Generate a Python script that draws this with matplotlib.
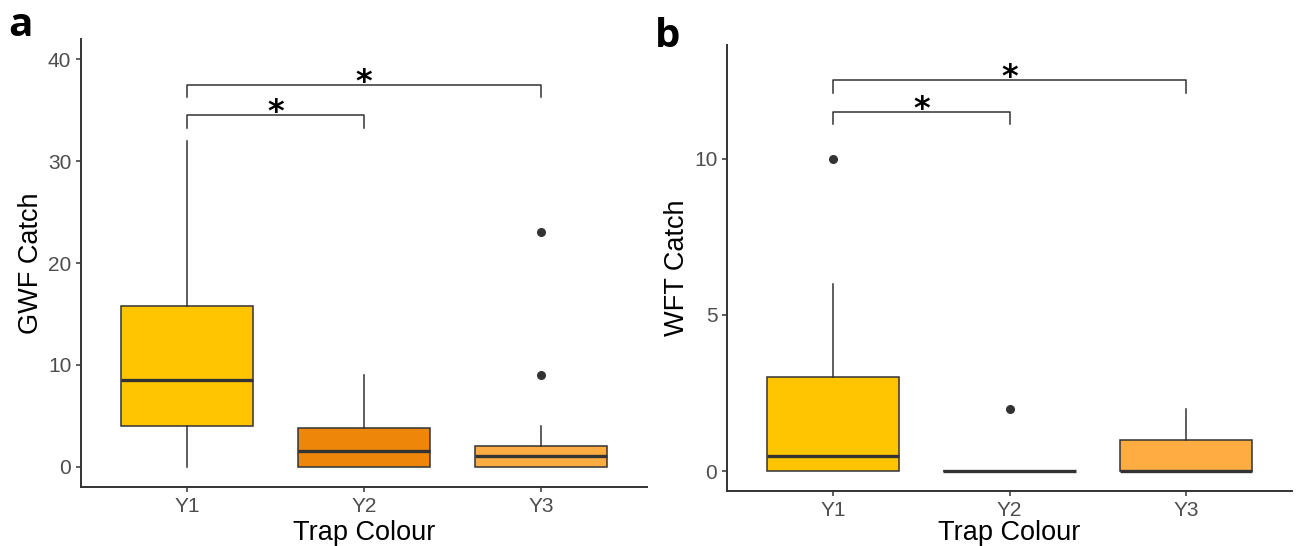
import matplotlib
matplotlib.use("Agg")
import matplotlib.pyplot as plt

plt.rcParams['font.family'] = ['Liberation Sans', 'DejaVu Sans']

# Trap colours and their fills
traps = ['Y1', 'Y2', 'Y3']
fills = ['#FFC500', '#EE860A', '#FFAD42']

# panel a: GWF catch (box stats)
gwf_low = [0, 0, 0]
gwf_q1 = [4, 0, 0]
gwf_med = [8.5, 1.5, 1]
gwf_q3 = [15.75, 3.75, 2]
gwf_high = [32, 9, 4]
gwf_out = [[], [], [9, 23]]

# panel b: WFT catch
wft_low = [0, 0, 0]
wft_q1 = [0, 0, 0]
wft_med = [0.5, 0, 0]
wft_q3 = [3, 0, 1]
wft_high = [6, 0, 2]
wft_out = [[10], [2], []]

# significance brackets: (from, to, height, label)
gwf_sig = [(1, 2, 34.5, '*'), (1, 3, 37.5, '*')]
wft_sig = [(1, 2, 11.5, '*'), (1, 3, 12.5, '*')]

dark = '#333333'


def draw_panel(ax, low, q1, med, q3, high, out, sig, tip, ylim, yticks, ylabel, xpad):
    stats = []
    for i in range(len(traps)):
        stats.append(dict(whislo=low[i], q1=q1[i], med=med[i], q3=q3[i],
                          whishi=high[i], fliers=out[i], label=traps[i]))
    bp = ax.bxp(stats, positions=[1, 2, 3], widths=0.75, patch_artist=True,
                showcaps=False,
                boxprops=dict(edgecolor=dark, linewidth=1.1),
                medianprops=dict(color=dark, linewidth=2.4, solid_capstyle='butt'),
                whiskerprops=dict(color=dark, linewidth=1.1),
                flierprops=dict(marker='o', markerfacecolor=dark, markeredgecolor=dark,
                                markersize=5.5))
    for patch, c in zip(bp['boxes'], fills):
        patch.set_facecolor(c)
    for med_line in bp['medians']:
        med_line.set_zorder(4)

    for x0, x1, y, lab in sig:
        ax.plot([x0, x0, x1, x1], [y - tip, y, y, y - tip], color=dark, lw=1.1)
        ax.annotate(lab, ((x0 + x1) / 2, y), xytext=(0, -4.3), textcoords='offset points',
                    ha='center', va='baseline', fontsize=23, fontweight='bold',
                    color='black', family='DejaVu Sans')

    ax.set_xlim(0.4, 3.6)
    ax.set_ylim(*ylim)
    ax.set_yticks(yticks)
    ax.set_xticks([1, 2, 3])
    ax.set_xticklabels(traps)
    ax.set_xlabel('Trap Colour', fontsize=19.5, color='black', labelpad=xpad)
    ax.set_ylabel(ylabel, fontsize=19.5, color='black', labelpad=3)
    ax.tick_params(colors=dark, labelcolor='#4D4D4D', labelsize=15, length=3.5, width=1.1)
    for s in ['top', 'right']:
        ax.spines[s].set_visible(False)
    for s in ['left', 'bottom']:
        ax.spines[s].set_color(dark)
        ax.spines[s].set_linewidth(1.4)


fig = plt.figure(figsize=(12.96, 5.46), dpi=100)
ax_a = fig.add_axes([0.0625, 0.108, 0.4367, 0.8206])
ax_b = fig.add_axes([0.561, 0.1007, 0.4359, 0.8169])

draw_panel(ax_a, gwf_low, gwf_q1, gwf_med, gwf_q3, gwf_high, gwf_out, gwf_sig, 1.2,
           (-2, 42), [0, 10, 20, 30, 40], 'GWF Catch', 3)
draw_panel(ax_b, wft_low, wft_q1, wft_med, wft_q3, wft_high, wft_out, wft_sig, 0.4,
           (-0.63, 13.63), [0, 5, 10], 'WFT Catch', 0.5)

fig.text(8 / 1296, 1 - 36 / 546, 'a', fontsize=29, fontweight='bold',
         family='Open Sans', va='baseline', ha='left')
fig.text(655 / 1296, 1 - 47 / 546, 'b', fontsize=29, fontweight='bold',
         family='Open Sans', va='baseline', ha='left')

fig.savefig('out.png', dpi=100)
